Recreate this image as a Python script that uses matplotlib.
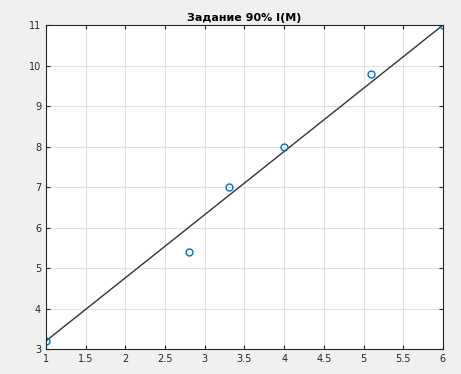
import matplotlib
matplotlib.use('Agg')
import matplotlib.pyplot as plt

# measured points
x_pts = [1.0, 2.8, 3.3, 4.0, 5.1, 6.0]
y_pts = [3.2, 5.4, 7.0, 8.0, 9.8, 11.0]

# approximation line (endpoints)
x_line = [1.0, 6.0]
y_line = [3.2, 11.0]

x_ticks = [1, 1.5, 2, 2.5, 3, 3.5, 4, 4.5, 5, 5.5, 6]
x_labels = ['1', '1.5', '2', '2.5', '3', '3.5', '4', '4.5', '5', '5.5', '6']
y_ticks = [3, 4, 5, 6, 7, 8, 9, 10, 11]

fig = plt.figure(figsize=(4.61, 3.74), dpi=100, facecolor='#f0f0f0')
ax = fig.add_axes([0.0998, 0.0668, 0.861, 0.866])

ax.plot(x_line, y_line, color='#333333', linewidth=1.0)
ax.plot(x_pts, y_pts, linestyle='none', marker='o', markersize=5,
        markerfacecolor='none', markeredgecolor='#0072bd', markeredgewidth=1.0)

ax.set_xlim(1, 6)
ax.set_ylim(3, 11)
ax.set_xticks(x_ticks)
ax.set_xticklabels(x_labels)
ax.set_yticks(y_ticks)
ax.grid(True, color='#e0e0e0', linewidth=0.8)
ax.set_axisbelow(True)
ax.tick_params(direction='in', labelsize=7, colors='#262626', length=3,
               top=True, right=True)
for s in ax.spines.values():
    s.set_color('#262626')
    s.set_linewidth(0.8)

ax.set_title('Задание 90% I(M)', fontsize=8, fontweight='bold', pad=3)

fig.savefig('out.png', dpi=100, facecolor=fig.get_facecolor())
